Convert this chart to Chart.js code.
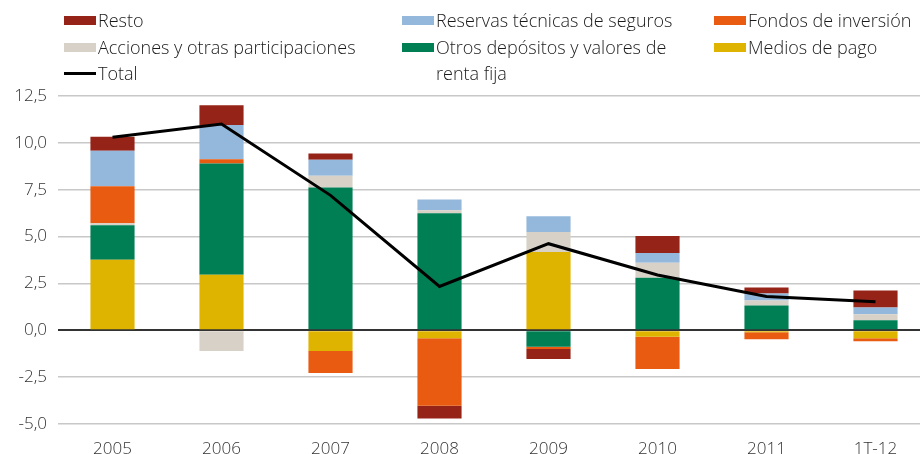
<!DOCTYPE html>
<html>
<head>
<meta charset="utf-8">
<script src="https://cdn.jsdelivr.net/npm/chart.js@4/dist/chart.umd.min.js"></script>
<style>
  html, body { margin: 0; padding: 0; background: #fff; }
  body { width: 920px; height: 454px; overflow: hidden; position: relative; }
  #wrap { position: absolute; left: 0; top: 0; width: 930px; height: 454px; }
  .lg { position: absolute; font-family: "Open Sans", sans-serif; font-weight: 300; font-size: 18px; color: #1a1a1a; line-height: 26px; white-space: nowrap; }
  .lg i { position: absolute; left: -34px; top: 9px; width: 32px; height: 9px; }
  .lg i.ln { top: 12px; height: 3px; background: #000; }
</style>
</head>
<body>
<div id="wrap"><canvas id="chartBars" width="930" height="454"></canvas></div>
<div id="legend"></div>
<script>
const categories = ["2005", "2006", "2007", "2008", "2009", "2010", "2011", "1T-12"];
const medios   = [3.76, 2.96, -1.11, -0.42, 4.18, -0.35, -0.10, -0.42];
const otros    = [1.85, 5.94, 7.62, 6.24, -0.88, 2.80, 1.32, 0.53];
const acciones = [0.10, -1.10, 0.63, 0.16, 1.06, 0.80, 0.27, 0.32];
const fondos   = [1.98, 0.22, -1.17, -3.60, -0.12, -1.71, -0.38, -0.16];
const reservas = [1.89, 1.83, 0.85, 0.58, 0.84, 0.53, 0.37, 0.37];
const resto    = [0.74, 1.06, 0.33, -0.69, -0.53, 0.90, 0.32, 0.90];
const total    = [10.3, 11.0, 7.2, 2.34, 4.62, 2.95, 1.8, 1.52];
const yTicks   = [-5, -2.5, 0, 2.5, 5, 7.5, 10, 12.5];

const colors = {
    resto: "#962318",
    reservas: "#94b8db",
    fondos: "#e85b10",
    acciones: "#d8d1c7",
    otros: "#007f55",
    medios: "#dfb400",
};

// legend drawn as html so the three columns line up like the original
const legendItems = [
    { text: "Resto", color: colors.resto, x: 98, y: 7 },
    { text: "Reservas técnicas de seguros", color: colors.reservas, x: 436, y: 7 },
    { text: "Fondos de inversión", color: colors.fondos, x: 748, y: 7 },
    { text: "Acciones y otras participaciones", color: colors.acciones, x: 98, y: 34 },
    { text: "Otros depósitos y valores de<br>renta fija", color: colors.otros, x: 436, y: 34 },
    { text: "Medios de pago", color: colors.medios, x: 748, y: 34 },
    { text: "Total", line: true, x: 98, y: 60 },
];
const legendEl = document.getElementById("legend");
legendItems.forEach(function (it) {
    const d = document.createElement("div");
    d.className = "lg";
    d.style.left = it.x + "px";
    d.style.top = it.y + "px";
    d.innerHTML = (it.line ? '<i class="ln"></i>' : '<i style="background:' + it.color + '"></i>') + it.text;
    legendEl.appendChild(d);
});

function bar(label, data, color) {
    return { type: "bar", label: label, data: data, backgroundColor: color, borderWidth: 0, order: 1 };
}

const chartBars = new Chart("chartBars", {
    data: {
    labels: categories,
    datasets: [
        {
        type: "line",
        label: "Total",
        data: total,
        borderColor: "#000",
        borderWidth: 3,
        pointRadius: 0,
        tension: 0,
        stack: "total",
        order: 0,
        },
        bar("Medios de pago", medios, colors.medios),
        bar("Otros depósitos y valores de renta fija", otros, colors.otros),
        bar("Acciones y otras participaciones", acciones, colors.acciones),
        bar("Fondos de inversión", fondos, colors.fondos),
        bar("Reservas técnicas de seguros", reservas, colors.reservas),
        bar("Resto", resto, colors.resto),
    ],
    },
    options: {
    responsive: false,
    animation: false,
    devicePixelRatio: 1,
    layout: { padding: { top: 96, left: 0, right: 0, bottom: 0 } },
    plugins: {
        legend: { display: false },
        tooltip: { enabled: false },
    },
    datasets: {
        bar: { categoryPercentage: 1, barPercentage: 0.405 },
    },
    scales: {
        x: {
        stacked: true,
        grid: { display: false },
        border: { display: false },
        ticks: {
            color: "#333",
            padding: 7,
            font: { family: "Open Sans", size: 17, weight: 300 },
        },
        afterFit: function (s) { s.height = 30; },
        },
        y: {
        stacked: true,
        min: -5,
        max: 12.5,
        afterBuildTicks: function (s) { s.ticks = yTicks.map(function (v) { return { value: v }; }); },
        afterFit: function (s) { s.width = 58; },
        border: { display: false },
        grid: {
            drawTicks: false,
            color: function (c) { return c.tick && c.tick.value === 0 ? "#333" : "#c8c8c8"; },
            lineWidth: function (c) { return c.tick && c.tick.value === 0 ? 2 : 1.5; },
        },
        ticks: {
            color: "#333",
            padding: 11,
            font: { family: "Open Sans", size: 17, weight: 300 },
            callback: function (v) { return v.toFixed(1).replace(".", ","); },
        },
        },
    },
    },
});
</script>
</body>
</html>
